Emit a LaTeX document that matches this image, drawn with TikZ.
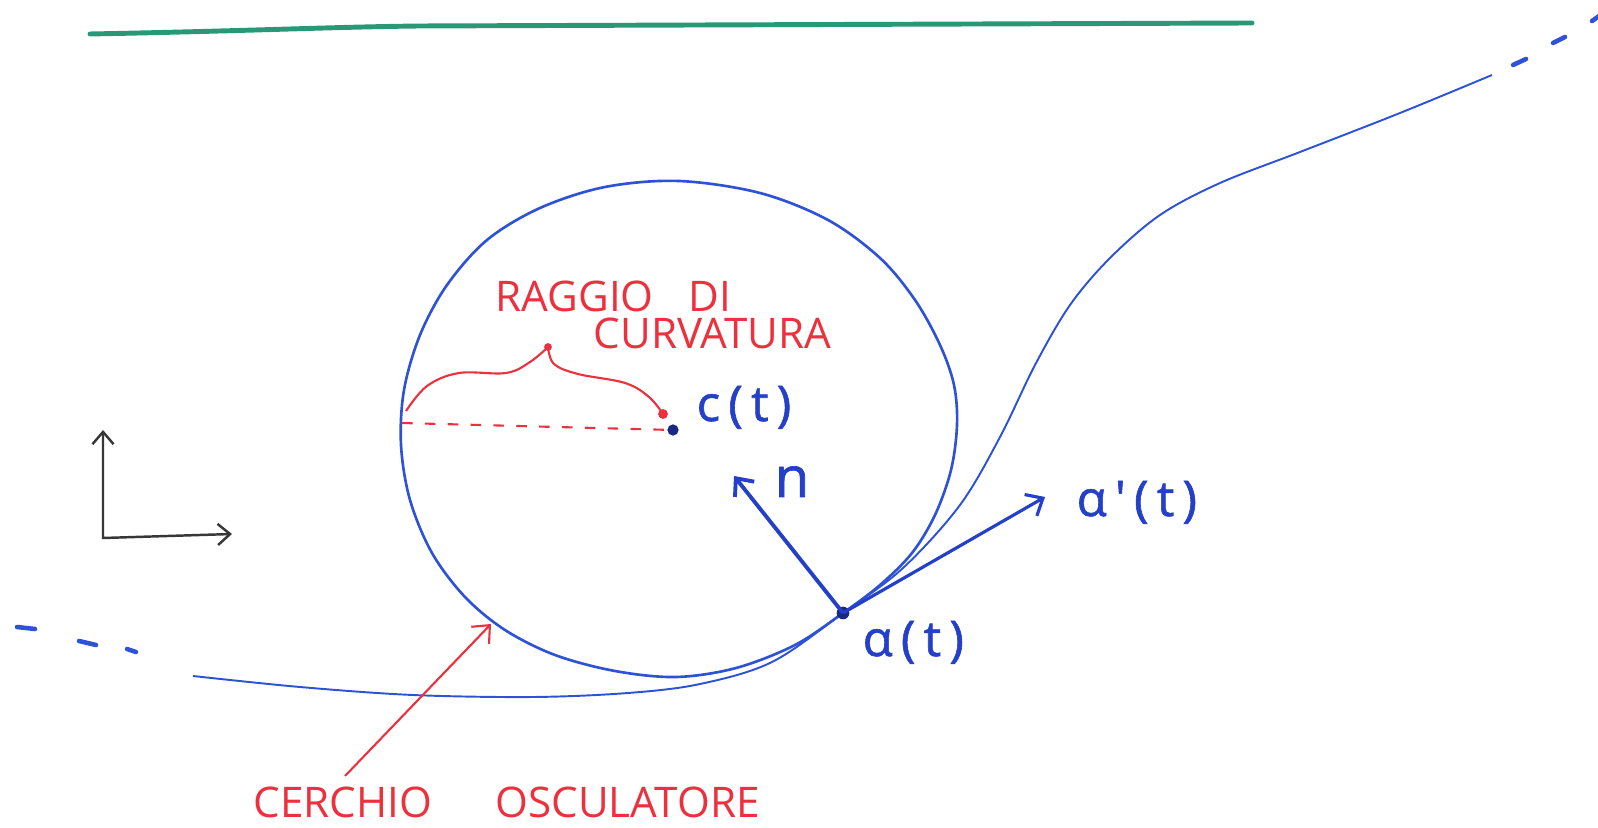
\documentclass[tikz,border=0pt]{standalone}
\usepackage{fontspec}
\setmainfont{Open Sans}
\newfontfamily\penfont[FakeBold=1.2]{Open Sans}
\usepackage{xcolor}
\definecolor{penblue}{RGB}{45,82,214}
\definecolor{inkblue}{RGB}{36,64,200}
\definecolor{pennavy}{RGB}{25,40,130}
\definecolor{penred}{RGB}{236,48,62}
\definecolor{pengreen}{RGB}{42,152,118}
\definecolor{pengray}{RGB}{55,55,55}
\usetikzlibrary{arrows.meta, calc}

\tikzset{
  redlbl/.style={text=penred, font=\fontsize{12}{14}\selectfont, inner sep=0pt, anchor=base west},
  bluelbl/.style={text=inkblue, font=\penfont\fontsize{14}{16}\selectfont, inner sep=0pt, anchor=base west},
  barb/.style={-{Straight Barb[length=4pt, width=7pt]}},
}

\begin{document}
\begin{tikzpicture}[x=0.01cm, y=-0.01cm]
  \useasboundingbox (0,0) rectangle (1598,828);

  % --- Title underline ---
  \draw[pengreen, line width=1.4pt, line cap=round]
    (90,34) .. controls (250,31) and (330,27) .. (420,26) -- (1252,23);

  % --- Axes ---
  \coordinate (O) at (103,538);
  \coordinate (yax) at (103,430);
  \coordinate (xax) at (232,534);
  \draw[pengray, line width=0.7pt, {Straight Barb[length=3.5pt, width=6pt]}-{Straight Barb[length=3.5pt, width=6pt]}]
    (yax) -- (O) -- (xax);

  % --- Osculating circle ---
  \draw[penblue, line width=0.75pt] plot[smooth cycle, tension=0.55] coordinates {
    (679,181) (760,193) (828,220) (880,258) (915,300) (940,345) (954,385)
    (957,425) (951,470) (935,515) (912,553) (880,585) (843,613) (795,645)
    (736,668) (676,677) (615,671) (555,655) (505,630) (465,597) (432,553)
    (410,500) (401,445) (404,390) (420,335) (447,285) (487,240) (540,208)
    (605,187)};

  % --- The curve ---
  \draw[penblue, line width=0.55pt] plot[smooth, tension=0.55] coordinates {
    (193,676) (300,687) (413,695) (533,697) (628,693) (700,684) (772,662)
    (843,613) (903,568) (960,505) (1000,437) (1035,365) (1070,305)
    (1110,258) (1160,215) (1220,183) (1300,152) (1400,113) (1492,75)};
  % dashes at both ends
  \foreach \xa/\ya/\xb/\yb in {17/627/35/629, 79/641/96/645, 127/649/136/652,
      1513/65/1526/59, 1553/43/1565/37, 1592/21/1602/14}
    \draw[penblue, line width=1.3pt, line cap=round] (\xa,\ya) -- (\xb,\yb);

  % --- Points ---
  \node[circle, fill=pennavy, inner sep=0pt, minimum size=3.2pt] (C) at (673,430) {};
  \node[circle, fill=pennavy, inner sep=0pt, minimum size=3.6pt] (P) at (843,613) {};
  \coordinate (R) at (402,423);
  \coordinate (ntip) at (734,476);
  \coordinate (ttip) at (1045,497);

  % --- Normal and tangent vectors ---
  \draw[inkblue, line width=1.1pt, barb] (P.center) -- (ntip);
  \draw[inkblue, line width=0.9pt, barb] (P.center) -- (ttip);

  % --- Radius of curvature ---
  \draw[penred, line width=0.6pt, dash pattern=on 3pt off 3.5pt] (R) -- (C);
  \draw[penred, line width=0.6pt] plot[smooth, tension=0.6] coordinates {
    (406,411) (427,386) (459,373) (506,373) (530,362) (548,347)};
  \draw[penred, line width=0.6pt] plot[smooth, tension=0.6] coordinates {
    (548,347) (554,364) (578,374) (625,383) (649,397) (663,414)};
  \fill[penred] (548,347) circle (1.1pt);
  \fill[penred] (663,414) circle (1.4pt);

  % --- Labels ---
  \node[redlbl] (raggio) at (495,312) {RAGGIO\hspace{10pt}DI};
  \node[redlbl] (curv) at (593,349) {CURVATURA};
  \node[redlbl] (osc) at (253,817) {CERCHIO\hspace{18pt}OSCULATORE};

  \node[bluelbl] (clbl) at (696,421) {c\,(\,t\,)};
  \node[bluelbl, font=\penfont\fontsize{16}{18}\selectfont] (nlbl) at (774,497) {n};
  \node[bluelbl] (dlbl) at (1076,516) {α\,'\,(\,t\,)};
  \node[bluelbl] (albl) at (862,656) {α\,(\,t\,)};

  % --- Pointer to the circle ---
  \coordinate (oscfoot) at (345,776);
  \coordinate (osctip) at (491,624);
  \draw[penred, line width=0.6pt, barb] (oscfoot) -- (osctip);
\end{tikzpicture}
\end{document}
